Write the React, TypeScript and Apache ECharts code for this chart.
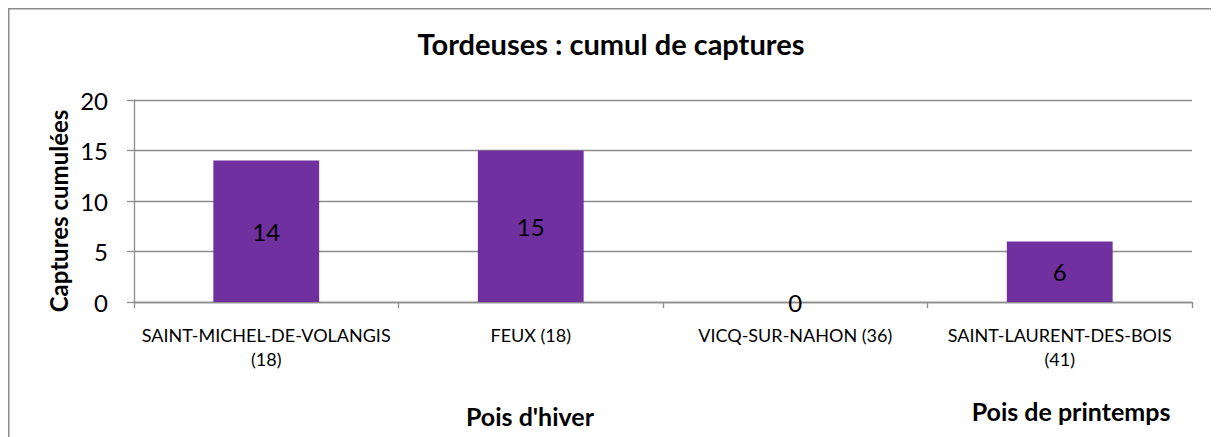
import React, { useEffect, useRef } from "react";
import * as echarts from "echarts";

const categories = [
  "SAINT-MICHEL-DE-VOLANGIS\n(18)",
  "FEUX (18)",
  "VICQ-SUR-NAHON (36)",
  "SAINT-LAURENT-DES-BOIS\n(41)",
];
const captures = [14, 15, 0, 6];
const yTicks = { min: 0, max: 20, interval: 5 };
const titleText = "Tordeuses : cumul de captures";
const yAxisTitle = "Captures cumulées";
const groupLabels = ["Pois d'hiver", "Pois de printemps"];

const FONT = "Lato, 'Noto Sans', sans-serif";

export default function App() {
  const ref = useRef<HTMLDivElement>(null);
  useEffect(() => {
    if (!ref.current) return;
    const chart = echarts.init(ref.current, undefined, { renderer: "svg" });
    const boldText = (text: string, x: number, y: number, size: number, rot = 0) => ({
      type: "text",
      x,
      y,
      rotation: rot,
      style: {
        text,
        fontFamily: FONT,
        fontSize: size,
        fontWeight: "bold",
        fill: "#000",
        align: "center",
        verticalAlign: "middle",
      },
    });
    chart.setOption({
      animation: false,
      textStyle: { fontFamily: FONT },
      grid: { left: 126, top: 92, right: 27, height: 202, containLabel: false },
      xAxis: {
        type: "category",
        data: categories,
        axisLine: { lineStyle: { color: "#8c8c8c", width: 1.3 } },
        axisTick: { show: true, length: 6, lineStyle: { color: "#8c8c8c", width: 1.3 } },
        axisLabel: {
          fontFamily: FONT,
          fontSize: 18,
          lineHeight: 24,
          color: "#000",
          margin: 21,
          interval: 0,
        },
      },
      yAxis: {
        type: "value",
        min: yTicks.min,
        max: yTicks.max,
        interval: yTicks.interval,
        axisLine: { show: true, lineStyle: { color: "#8c8c8c", width: 1.3 } },
        axisTick: { show: true, length: 7, lineStyle: { color: "#8c8c8c", width: 1.3 } },
        splitLine: { lineStyle: { color: "#8c8c8c", width: 1.3 } },
        axisLabel: { fontFamily: FONT, fontSize: 24, color: "#000", margin: 26 },
      },
      series: [
        {
          type: "bar",
          data: captures,
          barWidth: "40%",
          itemStyle: { color: "#7030A0" },
          label: {
            show: true,
            position: "inside",
            fontFamily: FONT,
            fontSize: 24,
            color: "#000",
          },
        },
      ],
      graphic: [
        {
          type: "rect",
          shape: { x: 0.75, y: 0.75, width: 1400, height: 700 },
          style: { fill: "none", stroke: "#8c8c8c", lineWidth: 1.5 },
          silent: true,
        },
        boldText(titleText, 603, 35, 29),
        boldText(yAxisTitle, 50, 203, 24, Math.PI / 2),
        boldText(groupLabels[0], 522, 408, 25),
        boldText(groupLabels[1], 1063, 403, 25),
      ],
    });
    return () => chart.dispose();
  }, []);
  return <div ref={ref} style={{ width: 1211, height: 429 }} />;
}
